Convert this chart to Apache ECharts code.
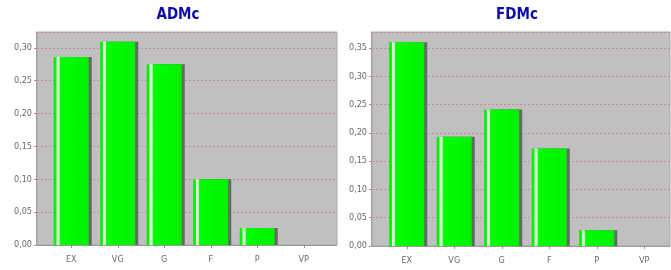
<!DOCTYPE html>
<html>
<head>
<meta charset="utf-8">
<script src="https://cdn.jsdelivr.net/npm/echarts@6/dist/echarts.min.js"></script>
<style>
  html, body { margin: 0; padding: 0; background: #fff; }
  #chart { width: 671px; height: 270px; }
</style>
</head>
<body>
<div id="chart"></div>
<script>
const categories = ["EX", "VG", "G", "F", "P", "VP"];
const admcValues = [0.286, 0.309, 0.275, 0.100, 0.026, 0];
const fdmcValues = [0.360, 0.193, 0.241, 0.172, 0.028, 0];
const admcMax = 0.324;
const fdmcMax = 0.378;

const labelFont = "'DejaVu Sans Condensed', 'DejaVu Sans', sans-serif";

function commaLabel(v) {
  return v.toFixed(2).replace(".", ",");
}

// green bar with light stripe near the left edge
const barColor = {
  type: "linear", x: 0, y: 0, x2: 1, y2: 0,
  colorStops: [
    { offset: 0, color: "#10e010" },
    { offset: 0.07, color: "#00ff00" },
    { offset: 0.09, color: "#eaffe4" },
    { offset: 0.16, color: "#c0ffb8" },
    { offset: 0.18, color: "#00ff00" },
    { offset: 1, color: "#00f000" },
  ],
};

function bgAxes(gridIndex, max) {
  return {
    x: {
      type: "category", gridIndex: gridIndex, data: categories,
      axisLabel: { show: false }, axisTick: { show: false },
      offset: 3,
      axisLine: { lineStyle: { color: "#9a9a9a", width: 1 } },
    },
    y: {
      type: "value", gridIndex: gridIndex, min: 0, max: max, interval: 0.05,
      offset: 1,
      axisLine: { show: true, lineStyle: { color: "#a0a0a0" } },
      axisTick: { show: true, length: 2, lineStyle: { color: "#909090" } },
      axisLabel: {
        color: "#6a6a6a", fontSize: 9, fontFamily: labelFont, margin: 4,
        formatter: commaLabel, showMaxLabel: false,
      },
      splitLine: { lineStyle: { color: "#d08a8a", type: [2, 2], width: 1 } },
    },
  };
}

function barAxes(gridIndex, max) {
  return {
    x: {
      type: "category", gridIndex: gridIndex, data: categories,
      axisLine: { show: false },
      offset: 3,
      axisTick: { show: true, alignWithLabel: true, length: 3, lineStyle: { color: "#909090" } },
      axisLabel: { color: "#6a6a6a", fontSize: 9, fontFamily: labelFont, margin: 7 },
    },
    y: {
      type: "value", gridIndex: gridIndex, min: 0, max: max, show: false,
      splitLine: { show: false },
    },
  };
}

const leftBg = bgAxes(0, admcMax);
const leftBars = barAxes(1, admcMax);
const rightBg = bgAxes(2, fdmcMax);
const rightBars = barAxes(3, fdmcMax);

function barSeries(name, axisIndex, values) {
  return {
    name: name, type: "bar", xAxisIndex: axisIndex, yAxisIndex: axisIndex,
    data: values, barWidth: 35,
    itemStyle: {
      color: barColor,
      shadowColor: "rgba(80,80,80,0.8)", shadowBlur: 0,
      shadowOffsetX: 3, shadowOffsetY: 0,
    },
  };
}

const chart = echarts.init(document.getElementById("chart"), null, { renderer: "canvas" });
chart.setOption({
  backgroundColor: "#ffffff",
  animation: false,
  title: [
    {
      text: "ADMc", left: 173, top: 3, textAlign: "center",
      textStyle: { color: "#0c0ca8", fontSize: 15, fontWeight: "bold", fontFamily: labelFont },
    },
    {
      text: "FDMc", left: 512, top: 3, textAlign: "center",
      textStyle: { color: "#0c0ca8", fontSize: 15, fontWeight: "bold", fontFamily: labelFont },
    },
  ],
  grid: [
    { left: 37, right: 334, top: 32, bottom: 25, show: true, backgroundColor: "#c0c0c0", borderColor: "#a8a8a8", borderWidth: 1 },
    { left: 48, right: 344, top: 32, bottom: 25 },
    { left: 372, right: 1, top: 32, bottom: 24, show: true, backgroundColor: "#c0c0c0", borderColor: "#a8a8a8", borderWidth: 1 },
    { left: 383, right: 3, top: 32, bottom: 24 },
  ],
  xAxis: [leftBg.x, leftBars.x, rightBg.x, rightBars.x],
  yAxis: [leftBg.y, leftBars.y, rightBg.y, rightBars.y],
  series: [
    barSeries("ADMc", 1, admcValues),
    barSeries("FDMc", 3, fdmcValues),
  ],
});
</script>
</body>
</html>
